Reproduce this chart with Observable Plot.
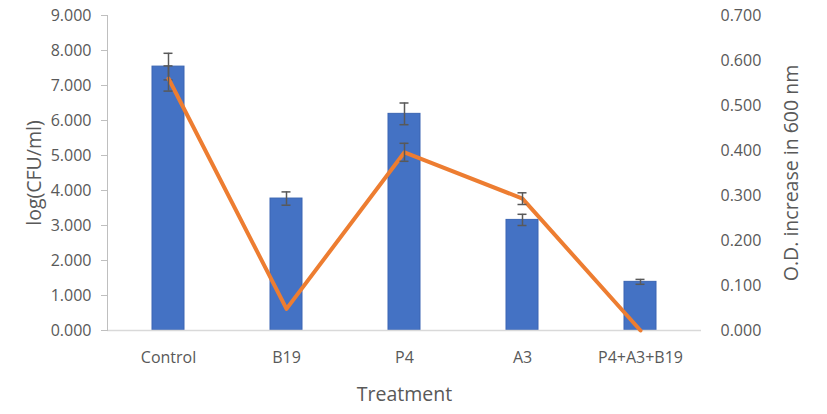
<!DOCTYPE html>
<html>
<head>
<meta charset="utf-8">
<script src="https://cdn.jsdelivr.net/npm/d3@7"></script>
<script src="https://cdn.jsdelivr.net/npm/@observablehq/plot@0.6"></script>
<style>
  html, body { margin: 0; padding: 0; background: #fff; }
  #chart { width: 827px; height: 414px; }
  g[aria-label$="axis label"] text { font-size: 19.5px; }
</style>
</head>
<body>
<div id="chart"></div>
<script>
const categories = ["Control", "B19", "P4", "A3", "P4+A3+B19"];
const cfu = [7.54, 3.77, 6.19, 3.16, 1.39];
const cfuErr = [0.38, 0.19, 0.31, 0.16, 0.07];
const od = [0.560, 0.048, 0.396, 0.293, 0.000];
const odErr = [0.028, 0.002, 0.020, 0.013, 0.000];
const leftTicks = [0, 1, 2, 3, 4, 5, 6, 7, 8, 9];
const rightTicks = [0, 0.1, 0.2, 0.3, 0.4, 0.5, 0.6, 0.7];

const k = 9 / 0.7; // map right axis units onto left scale
const rows = categories.map((c, i) => ({
  cat: c, cfu: cfu[i], cfuErr: cfuErr[i], od: od[i], odErr: odErr[i]
}));

const font = "Open Sans, Noto Sans, sans-serif";
const textColor = "#595959";
const capInset = 11.5;

const chart = Plot.plot({
  width: 827,
  height: 414,
  marginLeft: 107,
  marginRight: 126,
  marginTop: 15,
  marginBottom: 84,
  style: { fontFamily: font, fontSize: "16px", color: textColor, background: "#fff" },
  x: { domain: categories, paddingInner: 0.73, paddingOuter: 0.365, align: 0.5 },
  y: { domain: [0, 9] },
  marks: [
    Plot.barY(rows, { x: "cat", y: "cfu", fill: "#4472C4", stroke: "#3a65b3", strokeWidth: 1 }),
    Plot.ruleY([0], { stroke: "#d9d9d9", strokeWidth: 1.5 }),
    Plot.frame({ anchor: "left", stroke: "#bfbfbf" }),
    Plot.ruleX(rows, { x: "cat", y1: d => d.cfu - d.cfuErr, y2: d => d.cfu + d.cfuErr, stroke: "#595959", strokeWidth: 1.5 }),
    Plot.tickY(rows, { x: "cat", y: d => d.cfu - d.cfuErr, stroke: "#595959", strokeWidth: 1.5, insetLeft: capInset, insetRight: capInset }),
    Plot.tickY(rows, { x: "cat", y: d => d.cfu + d.cfuErr, stroke: "#595959", strokeWidth: 1.5, insetLeft: capInset, insetRight: capInset }),
    Plot.line(rows, { x: "cat", y: d => d.od * k, stroke: "#ED7D31", strokeWidth: 4, strokeLinejoin: "round" }),
    Plot.ruleX(rows.filter(d => d.odErr > 0.003), { x: "cat", y1: d => (d.od - d.odErr) * k, y2: d => (d.od + d.odErr) * k, stroke: "#595959", strokeWidth: 1.5 }),
    Plot.tickY(rows.filter(d => d.odErr > 0.003), { x: "cat", y: d => (d.od - d.odErr) * k, stroke: "#595959", strokeWidth: 1.5, insetLeft: capInset, insetRight: capInset }),
    Plot.tickY(rows.filter(d => d.odErr > 0.003), { x: "cat", y: d => (d.od + d.odErr) * k, stroke: "#595959", strokeWidth: 1.5, insetLeft: capInset, insetRight: capInset }),
    Plot.axisY({
      anchor: "left", ticks: leftTicks, tickFormat: d => d.toFixed(3),
      tickSize: 6, tickPadding: 10, stroke: "#bfbfbf", fill: textColor,
      label: "log(CFU/ml)", labelAnchor: "center", labelArrow: "none", labelOffset: 80
    }),
    Plot.axisY({
      anchor: "right", ticks: rightTicks.map(t => t * k), tickFormat: d => (d / k).toFixed(3),
      tickSize: 0, tickPadding: 19, fill: textColor,
      label: "O.D. increase in 600 nm", labelAnchor: "center", labelArrow: "none", labelOffset: 96
    }),
    Plot.axisX({
      tickSize: 0, tickPadding: 21, fill: textColor,
      label: "Treatment", labelAnchor: "center", labelArrow: "none", labelOffset: 70
    })
  ]
});
document.getElementById("chart").appendChild(chart);
</script>
</body>
</html>
